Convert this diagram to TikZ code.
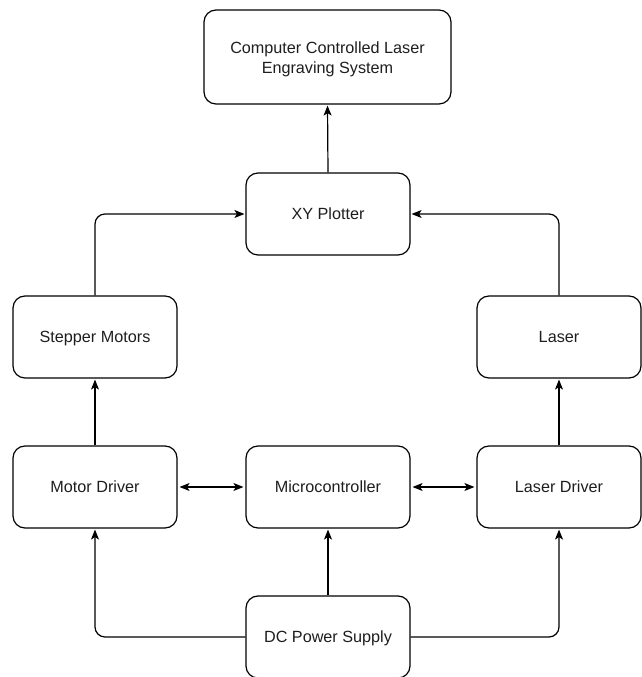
\documentclass[tikz,border=0pt]{standalone}
\usepackage{fontspec}
\setmainfont{Liberation Sans}
\usepackage{tikz}
\usetikzlibrary{calc,arrows.meta,positioning}
\definecolor{inkgray}{RGB}{30,30,30}

\begin{document}
\begin{tikzpicture}[
  x=1pt, y=1pt,
  box/.style={draw, rounded corners=12pt, line width=1.2pt, minimum width=164pt, minimum height=82pt,
    font=\fontsize{16.2}{20}\selectfont, text=inkgray, align=center, inner sep=2pt},
  blk/.style={box, text height=13.5pt, text depth=2pt},
  arr/.style={-{Stealth[length=10pt, width=8pt, inset=2.5pt]}, line width=1.2pt, rounded corners=10pt, shorten >=1pt},
  darr/.style={{Stealth[length=10pt, width=8pt, inset=2.5pt]}-{Stealth[length=10pt, width=8pt, inset=2.5pt]}, line width=1.2pt, shorten >=2pt, shorten <=2pt}
]
\useasboundingbox (0,0) rectangle (642,677);
\node[box, minimum width=247pt, minimum height=94pt, text height=36.5pt, text depth=3.5pt] (cnc) at (327.5,620) {Computer Controlled Laser\\Engraving System};
\node[blk] (xy) at (328,463) {XY Plotter};
\node[blk] (step) at (95,340) {Stepper Motors};
\node[blk] (las) at (559,340) {Laser};
\node[blk] (mdrv) at (95,190) {Motor Driver};
\node[blk] (mcu) at (328,190) {Microcontroller};
\node[blk] (ldrv) at (559,190) {Laser Driver};
\node[blk] (psu) at (328,40) {DC Power Supply};
% upward chain
\draw[arr] (xy.north) -- (cnc.south);
\draw[arr] (step.north) |- (xy.west);
\draw[arr] (las.north) |- (xy.east);
\draw[arr] (mdrv.north) -- (step.south);
\draw[arr] (ldrv.north) -- (las.south);
% control links
\draw[darr] (mdrv.east) -- (mcu.west);
\draw[darr] (mcu.east) -- (ldrv.west);
% power
\draw[arr] (psu.north) -- (mcu.south);
\draw[arr] (psu.west) -| (mdrv.south);
\draw[arr] (psu.east) -| (ldrv.south);
\end{tikzpicture}
\end{document}
